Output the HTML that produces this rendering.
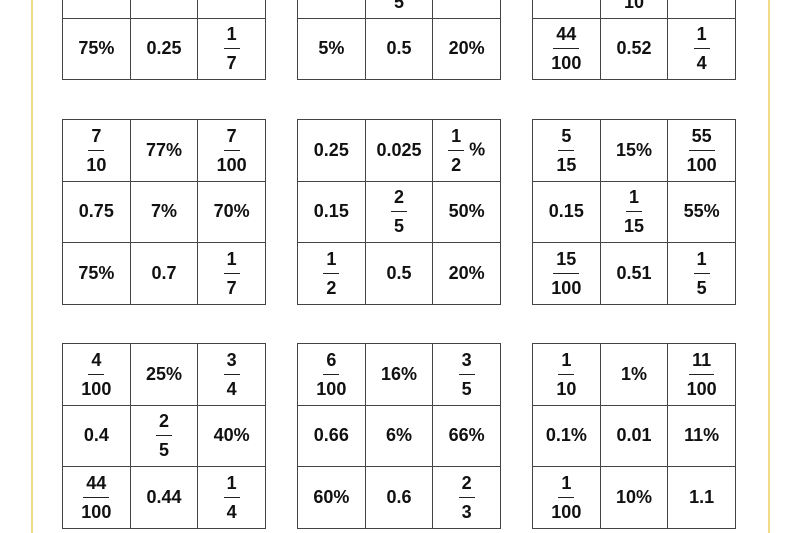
<!DOCTYPE html>
<html><head><meta charset="utf-8"><style>
body{margin:0;width:800px;height:533px;background:#fff;overflow:hidden;position:relative;font-family:"Liberation Sans",Arial,sans-serif;font-weight:bold;font-size:18px;color:#111}
.y{position:absolute;top:0;width:2px;height:533px;background:#f3d98a}
.g{position:absolute;border-collapse:collapse;table-layout:fixed;width:204px}
.g td{border:1px solid #444;height:60.5px;padding:0;text-align:center;vertical-align:middle}
.f{display:inline-flex;flex-direction:column;align-items:center;vertical-align:middle;line-height:22px}
.f span:first-child{border-bottom:1.5px solid #222;padding:0 3px 3px}
.f span:last-child{padding-top:3px}
</style></head><body>
<div class="y" style="left:31px"></div><div class="y" style="left:768px"></div>

<table class="g" style="left:62px;top:-44px"><tr><td></td><td></td><td></td></tr>
<tr><td>75%</td><td>0.25</td><td><span class="f"><span>1</span><span>7</span></span></td></tr></table>
<table class="g" style="left:297px;top:-44px"><tr><td></td><td><span class="f"><span>&nbsp;</span><span>5</span></span></td><td></td></tr>
<tr><td>5%</td><td>0.5</td><td>20%</td></tr></table>
<table class="g" style="left:532px;top:-44px"><tr><td></td><td><span class="f"><span>&nbsp;</span><span>10</span></span></td><td></td></tr>
<tr><td><span class="f"><span>44</span><span>100</span></span></td><td>0.52</td><td><span class="f"><span>1</span><span>4</span></span></td></tr></table>

<table class="g" style="left:62px;top:119px">
<tr><td><span class="f"><span>7</span><span>10</span></span></td><td>77%</td><td><span class="f"><span>7</span><span>100</span></span></td></tr>
<tr><td>0.75</td><td>7%</td><td>70%</td></tr>
<tr><td>75%</td><td>0.7</td><td><span class="f"><span>1</span><span>7</span></span></td></tr></table>
<table class="g" style="left:297px;top:119px">
<tr><td>0.25</td><td>0.025</td><td><span class="f"><span>1</span><span>2</span></span> %</td></tr>
<tr><td>0.15</td><td><span class="f"><span>2</span><span>5</span></span></td><td>50%</td></tr>
<tr><td><span class="f"><span>1</span><span>2</span></span></td><td>0.5</td><td>20%</td></tr></table>
<table class="g" style="left:532px;top:119px">
<tr><td><span class="f"><span>5</span><span>15</span></span></td><td>15%</td><td><span class="f"><span>55</span><span>100</span></span></td></tr>
<tr><td>0.15</td><td><span class="f"><span>1</span><span>15</span></span></td><td>55%</td></tr>
<tr><td><span class="f"><span>15</span><span>100</span></span></td><td>0.51</td><td><span class="f"><span>1</span><span>5</span></span></td></tr></table>

<table class="g" style="left:62px;top:343px">
<tr><td><span class="f"><span>4</span><span>100</span></span></td><td>25%</td><td><span class="f"><span>3</span><span>4</span></span></td></tr>
<tr><td>0.4</td><td><span class="f"><span>2</span><span>5</span></span></td><td>40%</td></tr>
<tr><td><span class="f"><span>44</span><span>100</span></span></td><td>0.44</td><td><span class="f"><span>1</span><span>4</span></span></td></tr></table>
<table class="g" style="left:297px;top:343px">
<tr><td><span class="f"><span>6</span><span>100</span></span></td><td>16%</td><td><span class="f"><span>3</span><span>5</span></span></td></tr>
<tr><td>0.66</td><td>6%</td><td>66%</td></tr>
<tr><td>60%</td><td>0.6</td><td><span class="f"><span>2</span><span>3</span></span></td></tr></table>
<table class="g" style="left:532px;top:343px">
<tr><td><span class="f"><span>1</span><span>10</span></span></td><td>1%</td><td><span class="f"><span>11</span><span>100</span></span></td></tr>
<tr><td>0.1%</td><td>0.01</td><td>11%</td></tr>
<tr><td><span class="f"><span>1</span><span>100</span></span></td><td>10%</td><td>1.1</td></tr></table>
</body></html>
